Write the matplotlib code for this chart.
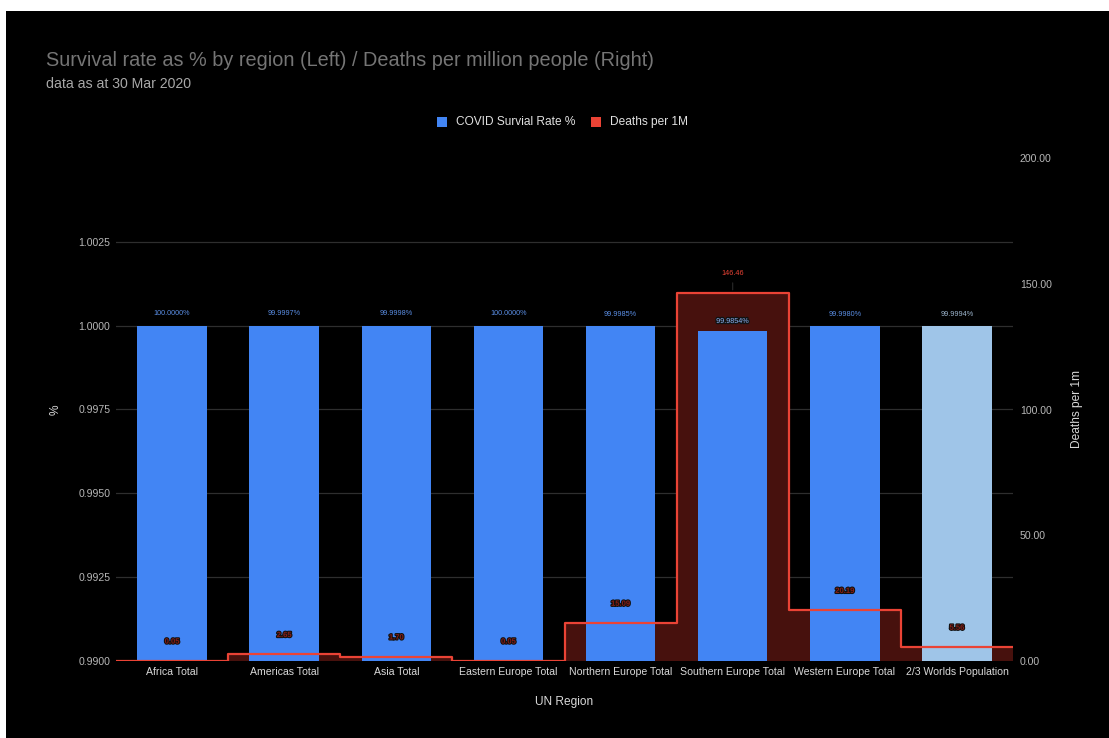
import numpy as np
import matplotlib
matplotlib.use("Agg")
import matplotlib.pyplot as plt
import matplotlib.patheffects as pe
from matplotlib.patches import Rectangle

plt.rcParams['font.family'] = ['Liberation Sans', 'DejaVu Sans']

regions = ["Africa Total", "Americas Total", "Asia Total", "Eastern Europe Total",
           "Northern Europe Total", "Southern Europe Total", "Western Europe Total",
           "2/3 Worlds Population"]
survival_pct = [100.0000, 99.9997, 99.9998, 100.0000, 99.9985, 99.9854, 99.9980, 99.9994]
deaths_per_1m = [0.05, 2.65, 1.70, 0.05, 15.09, 146.46, 20.19, 5.56]
left_ticks = [0.9900, 0.9925, 0.9950, 0.9975, 1.0000, 1.0025]
right_ticks = [0, 50, 100, 150, 200]

BLUE = "#4285f4"
LIGHT_BLUE = "#9fc5e8"
RED = "#ea4335"
FILL = "#47110d"
BG = "#000000"

W, H = 1109, 738
fig = plt.figure(figsize=(W / 100, H / 100), dpi=100, facecolor="white")
fig.patches.append(Rectangle((6 / W, 0), 1, (H - 11) / H, transform=fig.transFigure,
                             facecolor=BG, edgecolor="none", zorder=-10))

ax = fig.add_axes([116 / W, (H - 661) / H, 897 / W, 503 / H])
ax.set_facecolor(BG)
ax2 = ax.twinx()
ax2.patch.set_visible(False)

x = np.arange(len(regions))
edges = np.arange(len(regions) + 1) - 0.5
surv = np.array(survival_pct) / 100.0

ax.set_xlim(-0.5, len(regions) - 0.5)
ax.set_ylim(0.99, 1.005)
ax2.set_ylim(0, 200)

# shaded step area sits behind the bars, measured on the right-hand scale
ax.stairs(deaths_per_1m, edges, baseline=0, fill=True, color=FILL,
          transform=ax2.transData, zorder=1)

colors = [BLUE] * (len(regions) - 1) + [LIGHT_BLUE]
ax.bar(x, surv - 0.99, bottom=0.99, width=0.62, color=colors, zorder=2)

for yv in left_ticks:
    ax.axhline(yv, color="#2e2e2e", lw=0.9, zorder=0.5)

# step outline drawn over the bars
ax2.stairs(deaths_per_1m, edges, baseline=None, color=RED, lw=1.6,
           joinstyle="round", zorder=3)

# survival labels
for i, (xi, v) in enumerate(zip(x, survival_pct)):
    col = "#9fb8d0" if i == len(regions) - 1 else "#5b8fe6"
    kw = {}
    off = 6
    if deaths_per_1m[i] > 100:
        col = "#8fb4f5"
        off = 4
        kw["path_effects"] = [pe.withStroke(linewidth=1.8, foreground="#111111")]
    ax.annotate(f"{v:.4f}%", (xi, v / 100), xytext=(0, off), textcoords="offset points",
                ha="center", va="bottom", fontsize=5.2, color=col, zorder=5, **kw)

# deaths labels
for i, (xi, v) in enumerate(zip(x, deaths_per_1m)):
    if v > 100:
        ax2.annotate(f"{v:.2f}", (xi, v), xytext=(0, 11), textcoords="offset points",
                     ha="center", va="bottom", fontsize=5.2, color=RED, zorder=5)
        ax2.annotate("", (xi, v), xytext=(xi, v + 5.0),
                     arrowprops=dict(arrowstyle="-", color="#2a2a2a", lw=0.8))
    else:
        ax2.annotate(f"{v:.2f}", (xi, v), xytext=(0, 11), textcoords="offset points",
                     ha="center", va="bottom", fontsize=5.5, color="#8a1c14",
                     fontweight="bold", zorder=5,
                     path_effects=[pe.withStroke(linewidth=1.6, foreground="#111111")])

ax.set_xticks(x)
ax.set_xticklabels(regions, fontsize=7.6, color="#d9d9d9")
ax.set_yticks(left_ticks)
ax.set_yticklabels([f"{t:.4f}" for t in left_ticks], fontsize=7.6, color="#b7b7b7")
ax2.set_yticks(right_ticks)
ax2.set_yticklabels([f"{t:.2f}" for t in right_ticks], fontsize=7.6, color="#b7b7b7")
ax.tick_params(axis="both", length=0, pad=4)
ax2.tick_params(axis="both", length=0, pad=5)
for a in (ax, ax2):
    for s in a.spines.values():
        s.set_visible(False)

ax.set_xlabel("UN Region", fontsize=8.6, color="#d9d9d9", labelpad=14)
ax.set_ylabel("%", fontsize=8.6, color="#d9d9d9", labelpad=12)
ax2.set_ylabel("Deaths per 1m", fontsize=8.6, color="#d9d9d9", labelpad=14)

fig.text(46 / W, 1 - 60 / H, "Survival rate as % by region (Left) / Deaths per million people (Right)",
         fontsize=14.3, color="#757575", va="center", ha="left")
fig.text(46 / W, 1 - 84 / H, "data as at 30 Mar 2020", fontsize=10.2, color="#a8a8a8",
         va="center", ha="left")

# legend
fig.patches.append(Rectangle((437 / W, 1 - 127 / H), 10 / W, 10 / H, transform=fig.transFigure,
                             facecolor=BLUE, edgecolor="none"))
fig.text(456 / W, 1 - 122 / H, "COVID Survial Rate %", fontsize=8.6, color="#e0e0e0",
         va="center", ha="left")
fig.patches.append(Rectangle((591 / W, 1 - 127 / H), 10 / W, 10 / H, transform=fig.transFigure,
                             facecolor=RED, edgecolor="none"))
fig.text(610 / W, 1 - 122 / H, "Deaths per 1M", fontsize=8.6, color="#e0e0e0",
         va="center", ha="left")

fig.savefig("out.png", dpi=100, facecolor=fig.get_facecolor())
